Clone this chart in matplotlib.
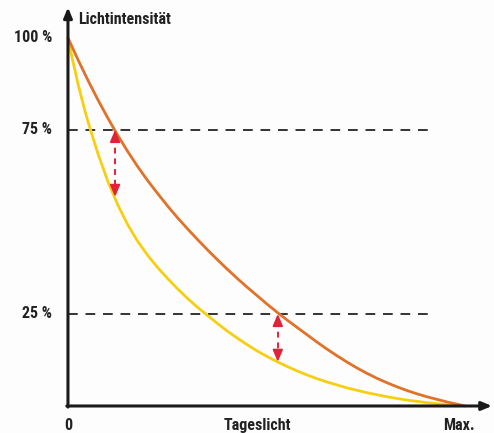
import matplotlib
matplotlib.use('Agg')
import matplotlib.pyplot as plt

## Daten (x: 0 .. Max. = 100, y: Lichtintensität in %)
x_orange = [0, 2.5, 5, 7.5, 10, 12.5, 15, 17.5, 20, 22.5, 25, 27.5, 30, 32.5, 35, 37.5, 40, 42.5, 45, 47.5,
            50, 52.5, 55, 57.5, 60, 62.5, 65, 67.5, 70, 72.5, 75, 77.5, 80, 82.5, 85, 87.5, 90, 92.5, 95, 97.5, 99.5]
y_orange = [100, 94.1, 88.5, 83.2, 78.2, 73.5, 69.1, 65.0, 61.2, 57.7, 54.3, 51.1, 48.1, 45.2, 42.4, 39.7, 37.1, 34.6, 32.2, 29.9,
            27.6, 25.4, 23.3, 21.3, 19.3, 17.3, 15.4, 13.6, 11.9, 10.3, 8.85, 7.5, 6.3, 5.2, 4.2, 3.3, 2.5, 1.8, 1.1, 0.5, 0]
x_gelb = [0, 1, 2.5, 4, 5, 7.5, 10, 12.5, 15, 17.5, 20, 22.5, 25, 27.5, 30, 32.5, 35, 37.5, 40, 42.5, 45, 47.5,
          50, 52.5, 55, 57.5, 60, 62.5, 65, 67.5, 70, 75, 80, 85, 90, 95, 98]
y_gelb = [100, 94.8, 87.6, 81.2, 77.3, 68.6, 61, 54.6, 49.2, 44.7, 40.9, 37.6, 34.6, 31.8, 29.2, 26.8, 24.6, 22.4, 20.3, 18.4, 16.6, 14.9,
          13.4, 12.0, 10.7, 9.5, 8.4, 7.4, 6.5, 5.7, 4.9, 3.6, 2.5, 1.6, 0.9, 0.35, 0]
niveaus = [75, 25]
niveau_labels = ['75 %', '25 %']
pfeil_x = [11.8, 52.6]
pfeil_unten = [56.8, 12.0]
x_labels = ['0', 'Tageslicht', 'Max.']
x_label_pos = [0, 47.4, 98]

fam = ['Roboto Condensed', 'Liberation Sans Narrow', 'Roboto', 'DejaVu Sans']
fs = 11.5
c_text = '#222222'
c_orange = '#E07229'
c_gelb = '#F7CF12'
c_rot = '#E3223A'
c_axis = '#1a1a1a'

fig = plt.figure(figsize=(4.94, 4.33), dpi=100)
fig.patch.set_facecolor('#FDFDFE')
ax = fig.add_axes([0, 0, 1, 1])
ax.set_axis_off()
ax.set_xlim(-17.04, 106.8)
ax.set_ylim(-7.34, 110.3)

## Hilfslinien
for n in niveaus:
    ax.plot([0, 91.2], [n, n], c='#333333', lw=1.4, ls=(0, (5, 4)), zorder=1)

## Kurven
ax.plot(x_orange, y_orange, c=c_orange, lw=2, zorder=3, solid_capstyle='round', solid_joinstyle='round')
ax.plot(x_gelb, y_gelb, c=c_gelb, lw=2, zorder=2, solid_capstyle='round', solid_joinstyle='round')

## Pfeile
for px, oben, unten in zip(pfeil_x, niveaus, pfeil_unten):
    ax.plot([px, px], [oben - 2, unten + 2], c=c_rot, lw=1.4, ls=(0, (3, 2.5)), zorder=4)
    ax.annotate('', xy=(px, oben), xytext=(px, oben - 3),
                arrowprops=dict(arrowstyle='-|>,head_length=0.7,head_width=0.3', color=c_rot, lw=1.4,
                                shrinkA=0, shrinkB=0), zorder=5)
    ax.annotate('', xy=(px, unten), xytext=(px, unten + 3),
                arrowprops=dict(arrowstyle='-|>,head_length=0.7,head_width=0.3', color=c_rot, lw=1.4,
                                shrinkA=0, shrinkB=0), zorder=5)

## Achsen
ax.annotate('', xy=(0, 108.3), xytext=(0, -0.3),
            arrowprops=dict(arrowstyle='-|>,head_length=0.6,head_width=0.25', color=c_axis, lw=2.2, shrinkA=0, shrinkB=0))
ax.annotate('', xy=(106.3, 0), xytext=(-0.3, 0),
            arrowprops=dict(arrowstyle='-|>,head_length=0.6,head_width=0.25', color=c_axis, lw=2.2, shrinkA=0, shrinkB=0))

## Beschriftung
ax.text(-4, 100, '100 %', ha='right', va='center', fontsize=fs, fontweight='bold', family=fam, color=c_text)
for n, lab in zip(niveaus, niveau_labels):
    ax.text(-4, n, lab, ha='right', va='center', fontsize=fs, fontweight='bold', family=fam, color=c_text)
for pos, lab in zip(x_label_pos, x_labels):
    ax.text(pos, -5.2, lab, ha='center', va='center', fontsize=fs, fontweight='bold', family=fam, color=c_text)
ax.text(2.5, 104.9, 'Lichtintensität', ha='left', va='center', fontsize=fs, fontweight='bold', family=fam, color=c_text)

fig.savefig('out.png', dpi=100)
